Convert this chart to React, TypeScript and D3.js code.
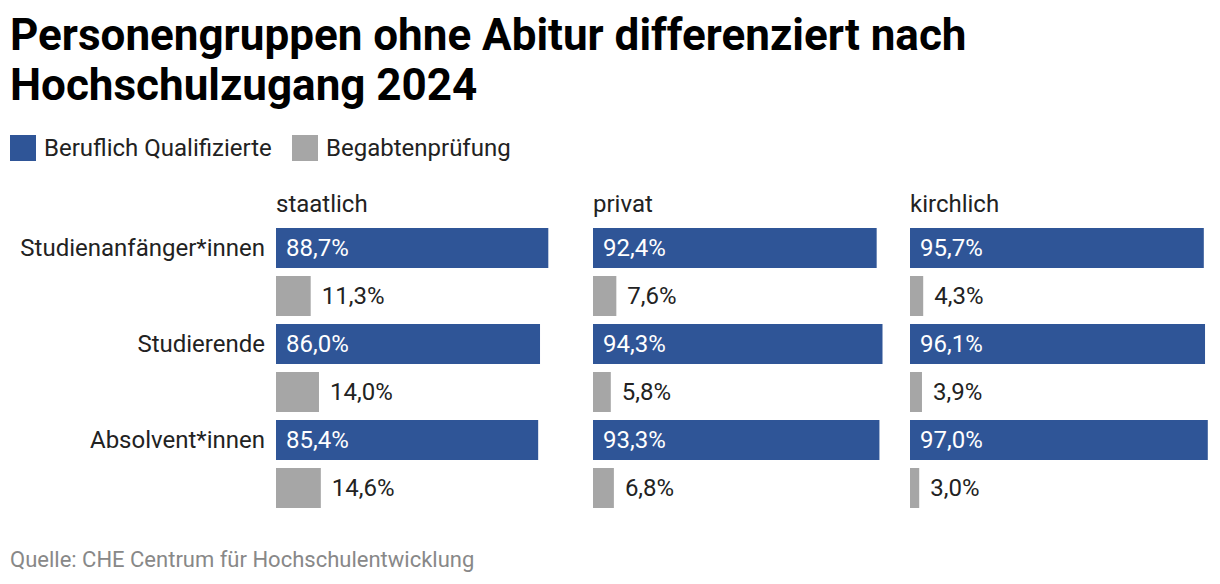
import React from "react";
import * as d3 from "d3";

const WIDTH = 1220;
const HEIGHT = 584;

const groups = ["Studienanfänger*innen", "Studierende", "Absolvent*innen"];
const sectors = ["staatlich", "privat", "kirchlich"];
const seriesNames = ["Beruflich Qualifizierte", "Begabtenprüfung"];
const colors = ["#2f5597", "#a6a6a6"];

// values per sector, in order of groups
const beruflich: Record<string, number[]> = {
  staatlich: [88.7, 86.0, 85.4],
  privat: [92.4, 94.3, 93.3],
  kirchlich: [95.7, 96.1, 97.0],
};
const begabten: Record<string, number[]> = {
  staatlich: [11.3, 14.0, 14.6],
  privat: [7.6, 5.8, 6.8],
  kirchlich: [4.3, 3.9, 3.0],
};

const fmt = (v: number) => v.toFixed(1).replace(".", ",") + "%";

const FONT = "Roboto, sans-serif";

export default function App() {
  const panelX = d3.scalePoint<string>().domain(sectors).range([276, 910]);
  const x = d3.scaleLinear().domain([0, 100]).range([0, 307]);
  // one band per bar: group x series
  const rowKeys = groups.flatMap((g) => seriesNames.map((s) => g + "|" + s));
  const rowY = d3
    .scaleBand<string>()
    .domain(rowKeys)
    .range([228, 508])
    .paddingInner(8 / 48)
    .paddingOuter(0);
  const barH = rowY.bandwidth();

  return (
    <svg
      width={WIDTH}
      height={HEIGHT}
      style={{ position: "absolute", left: 0, top: 0, background: "#fff" }}
      fontFamily={FONT}
    >
      <text x={10} y={50} fontSize={44} fontWeight={700} fill="#000">
        Personengruppen ohne Abitur differenziert nach
      </text>
      <text x={10} y={100} fontSize={44} fontWeight={700} fill="#000">
        Hochschulzugang 2024
      </text>

      {/* legend */}
      <g>
        <rect x={10} y={135} width={26} height={26} fill={colors[0]} />
        <text x={44} y={156} fontSize={24} fill="#222">{seriesNames[0]}</text>
        <rect x={292} y={135} width={26} height={26} fill={colors[1]} />
        <text x={326} y={156} fontSize={24} fill="#222">{seriesNames[1]}</text>
      </g>

      {/* row labels */}
      {groups.map((g) => (
        <text
          key={g}
          x={265}
          y={(rowY(g + "|" + seriesNames[0]) ?? 0) + barH / 2 + 8}
          textAnchor="end"
          fontSize={24}
          fill="#222"
        >
          {g}
        </text>
      ))}

      {sectors.map((s) => {
        const px = panelX(s) ?? 0;
        return (
          <g key={s} transform={`translate(${px},0)`}>
            <text x={0} y={212} fontSize={24} fill="#222">{s}</text>
            {groups.map((g, i) => {
              const yb = rowY(g + "|" + seriesNames[0]) ?? 0;
              const yg = rowY(g + "|" + seriesNames[1]) ?? 0;
              const vb = beruflich[s][i];
              const vg = begabten[s][i];
              return (
                <g key={g}>
                  <rect x={0} y={yb} width={x(vb)} height={barH} fill={colors[0]} />
                  <text x={10} y={yb + barH / 2 + 8} fontSize={24} fill="#fff">{fmt(vb)}</text>
                  <rect x={0} y={yg} width={x(vg)} height={barH} fill={colors[1]} />
                  <text x={x(vg) + 11} y={yg + barH / 2 + 8} fontSize={24} fill="#222">{fmt(vg)}</text>
                </g>
              );
            })}
          </g>
        );
      })}

      <text x={10} y={567} fontSize={22} fill="#888">
        Quelle: CHE Centrum für Hochschulentwicklung
      </text>
    </svg>
  );
}
